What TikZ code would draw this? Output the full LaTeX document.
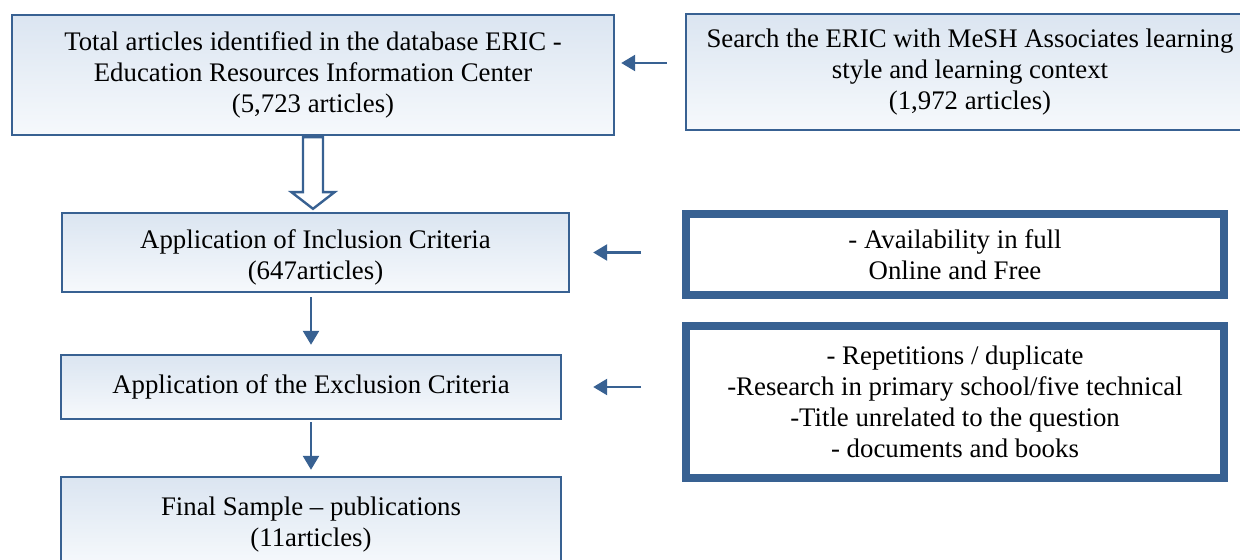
\documentclass[tikz,border=0pt]{standalone}
\usepackage{fontspec}
\setmainfont{Liberation Serif}
\usepackage{tikz}
\usetikzlibrary{arrows.meta, calc}
\definecolor{frame}{RGB}{56,97,146}
\definecolor{shadetop}{RGB}{219,229,241}
\definecolor{shadebot}{RGB}{246,249,252}

\begin{document}
\begin{tikzpicture}[x=0.5pt, y=-0.5pt,
    every node/.style={font=\fontsize{13.4}{15.5}\selectfont, align=center},
    box/.style={draw=frame, line width=1.2pt, top color=shadetop, bottom color=shadebot, inner sep=0pt},
    critbox/.style={draw=frame, line width=4pt, fill=white, inner sep=0pt},
    flow/.style={draw=frame, line width=1.3pt, -{Triangle[length=7pt, width=8pt]}},
    hollow/.style={draw=frame, line width=1.2pt, fill=white, line join=miter}]
    \clip (0, 0) rectangle (1240, 560);

    % Left column
    \node[box, minimum width=301pt, minimum height=60pt] (total) at (313, 75) {Total articles identified in the database ERIC -\\Education Resources Information Center\\(5,723 articles)};
    \node[box, minimum width=253.5pt, minimum height=39.5pt] (incl) at (315.5, 252.5) {\rule{0pt}{14pt}Application of Inclusion Criteria\\(647articles)};
    \node[box, minimum width=250pt, minimum height=32pt] (excl) at (311, 387) {Application of the Exclusion Criteria};
    \node[box, minimum width=250pt, minimum height=44.5pt] (final) at (311, 521.5) {\rule{0pt}{12pt}Final Sample -- publications\\(11articles)};

    % Right column
    \node[box, minimum width=284pt, minimum height=58pt] (search) at (970, 72) {Search the ERIC with MeSH Associates learning\\style and learning context\\(1,972 articles)};
    \node[critbox, minimum width=269pt, minimum height=40.5pt] (avail) at (955, 254.5) {- Availability in full\\Online and Free};
    \node[critbox, minimum width=269pt, minimum height=76pt] (crit) at (955, 402) {- Repetitions / duplicate\\-Research in primary school/five technical\\-Title unrelated to the question\\- documents and books};

    % Hollow arrow
    \draw[hollow] ($(total.south)+(-10, 1)$) -- ++(0, 55) -- ++(-11.5, 0) -- ($(total.south |- incl.north)+(0, -3)$) -- ($(total.south)+(21.5, 56)$) -- ++(-11.5, 0) -- ($(total.south)+(10, 1)$) -- cycle;

    % Arrows
    \draw[flow, shorten <=2pt, shorten >=4.5pt] (excl.north |- incl.south) -- (excl.north);
    \draw[flow, shorten <=1pt, shorten >=3pt] (excl.south) -- (final.north);
    \draw[flow, shorten <=9pt, shorten >=3pt] ([yshift=4.5pt]search.west) -- ([yshift=4.5pt]search.west -| total.east);
    \draw[flow, shorten <=20.5pt, shorten >=11.5pt] (incl.east -| avail.west) -- (incl.east);
    \draw[flow, shorten <=20.5pt, shorten >=15.5pt] (excl.east -| crit.west) -- (excl.east);
\end{tikzpicture}
\end{document}
